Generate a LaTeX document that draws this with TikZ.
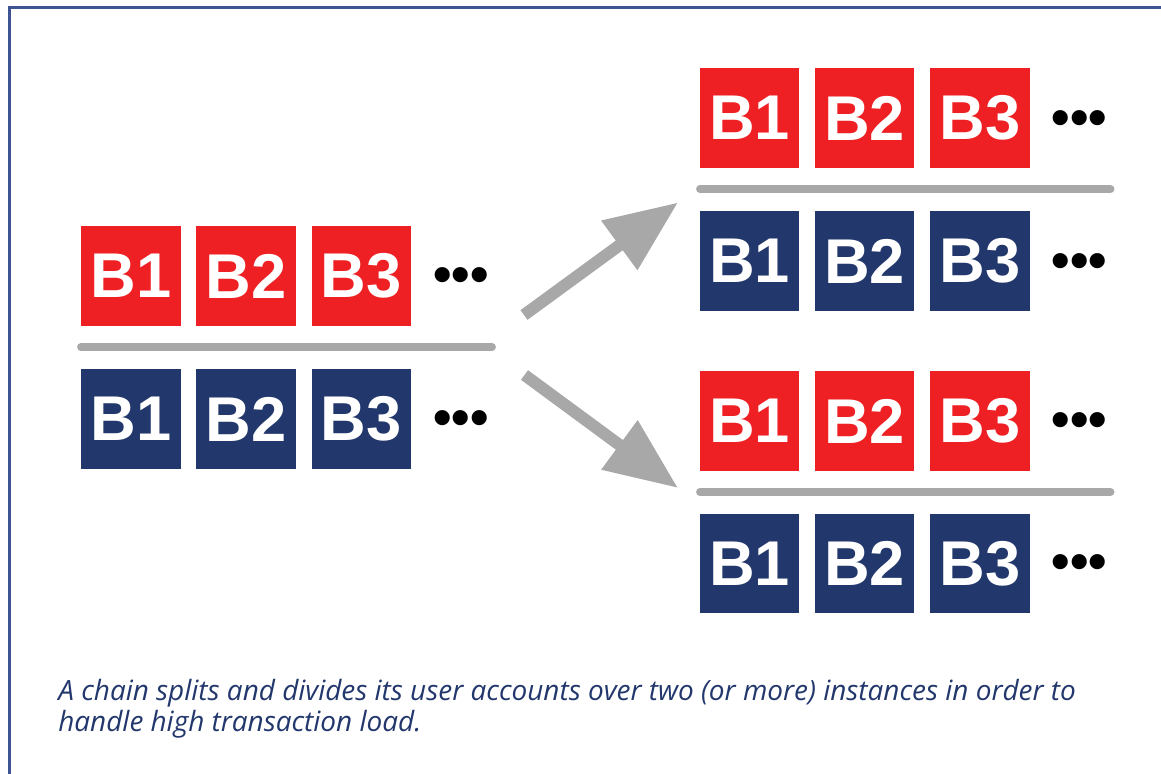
\documentclass[tikz,border=0pt]{standalone}
\usepackage{fontspec}
\usepackage{tikz}
\usetikzlibrary{positioning,arrows.meta}

\newfontfamily\blockfont{Liberation Sans}
\newfontfamily\notefont{Open Sans}

\definecolor{blkred}{HTML}{EE2024}
\definecolor{blkblue}{HTML}{22376C}
\definecolor{splitgray}{HTML}{A8A8A8}
\definecolor{framblue}{HTML}{3F5492}

\tikzset{
  blk/.style={minimum size=1.99cm, inner sep=0pt, text=white,
    font=\blockfont\bfseries\fontsize{36}{36}\selectfont},
  redblk/.style={blk, fill=blkred},
  blueblk/.style={blk, fill=blkblue},
  more/.style={inner sep=0pt, yshift=-3.6pt,
    font=\blockfont\bfseries\fontsize{30}{30}\selectfont},
  divider/.style={splitgray, line width=4.5pt, line cap=round},
  splitarrow/.style={splitgray, line width=6.8pt,
    -{Triangle[length=41.4pt, width=33.1pt]}}
}

\begin{document}
\begin{tikzpicture}[x=0.02cm, y=-0.02cm]
  \useasboundingbox (0,0) rectangle (1161,774);
  \draw[framblue, line width=1.7pt] (1161,7.5) -- (9.5,7.5) -- (9.5,774);

  % chain before the split
  \node[redblk](SR1) at (131,276) {B1};
  \node[redblk, right=0.3cm of SR1](SR2) {B2};
  \node[redblk, right=0.3cm of SR2](SR3) {B3};
   \node[more](SRD) at (461,274) {•••};
  \draw[divider] (81,347) -- (492,347);
  \node[blueblk](SB1) at (131,419) {B1};
  \node[blueblk, right=0.3cm of SB1](SB2) {B2};
  \node[blueblk, right=0.3cm of SB2](SB3) {B3};
   \node[more](SBD) at (461,417) {•••};

  % upper instance
  \node[redblk](UR1) at (749.5,118) {B1};
  \node[redblk, right=0.3cm of UR1](UR2) {B2};
  \node[redblk, right=0.3cm of UR2](UR3) {B3};
   \node[more](URD) at (1079.5,117) {•••};
  \draw[divider] (700,189) -- (1110.5,189);
  \node[blueblk](UB1) at (749.5,261) {B1};
  \node[blueblk, right=0.3cm of UB1](UB2) {B2};
  \node[blueblk, right=0.3cm of UB2](UB3) {B3};
   \node[more](UBD) at (1079.5,260) {•••};

  % lower instance
  \node[redblk](DR1) at (749.5,421) {B1};
  \node[redblk, right=0.3cm of DR1](DR2) {B2};
  \node[redblk, right=0.3cm of DR2](DR3) {B3};
   \node[more](DRD) at (1079.5,419) {•••};
  \draw[divider] (700,492) -- (1110.5,492);
  \node[blueblk](DB1) at (749.5,563.5) {B1};
  \node[blueblk, right=0.3cm of DB1](DB2) {B2};
  \node[blueblk, right=0.3cm of DB2](DB3) {B3};
   \node[more](DBD) at (1079.5,561) {•••};

  \coordinate(SU) at (524,315);
  \coordinate(UT) at (678,202.5);
  \coordinate(SD) at (524.5,375);
  \coordinate(DT) at (678,488);
  \draw[splitarrow] (SU) -- (UT);
  \draw[splitarrow] (SD) -- (DT);

  % base of a two-line node is the last line
  \node(NOTE)[anchor=base west, align=left, inner sep=0pt, text=blkblue,
    font=\notefont\itshape\fontsize{15.9}{17.6}\selectfont] at (58,731)
    {A chain splits and divides its user accounts over two (or more) instances in order to\\
     handle high transaction load.};
\end{tikzpicture}
\end{document}
